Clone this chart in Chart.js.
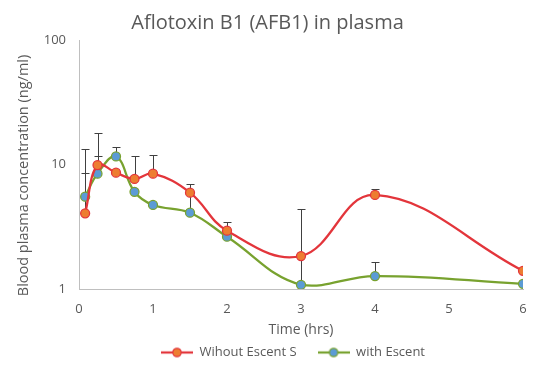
<!DOCTYPE html>
<html>
<head>
<meta charset="utf-8">
<script src="https://cdn.jsdelivr.net/npm/chart.js@4.4.0/dist/chart.umd.min.js"></script>
<style>
  html, body { margin: 0; padding: 0; background: #fff; }
  #wrap { width: 549px; height: 376px; }
</style>
</head>
<body>
<div id="wrap"><canvas id="grafico" width="549" height="376"></canvas></div>
<script>
// tempos de coleta (h) e concentrações (ng/ml)
const tempos = [0.083, 0.25, 0.5, 0.75, 1, 1.5, 2, 3, 4, 6];
const semEscent = [4.05, 9.9, 8.6, 7.65, 8.44, 5.94, 2.94, 1.84, 5.69, 1.4];
const comEscent = [5.51, 8.44, 11.6, 6.04, 4.73, 4.1, 2.63, 1.08, 1.27, 1.1];
// barras de erro (só para cima)
const erroSem = [4.45, 8.0, 0, 4.05, 3.4, 0, 0, 0, 0.7, 0];
const erroCom = [7.8, 3.3, 2.1, 0, 0, 2.9, 0.8, 3.34, 0.37, 0];
const ticksX = [0, 1, 2, 3, 4, 5, 6];
const ticksY = [1, 10, 100];
const legendas = ["Wihout Escent S", "with Escent"];
const tituloY = "Blood plasma concentration (ng/ml)";

const erros = [erroSem, erroCom];
const corTexto = "#595959";
const fonte = "'Open Sans', 'Liberation Sans', sans-serif";

function iconeLegenda(linha, preenchimento) {
    const c = document.createElement("canvas");
    c.width = 32; c.height = 12;
    const g = c.getContext("2d");
    g.strokeStyle = linha; g.lineWidth = 2.25;
    g.beginPath(); g.moveTo(0, 6); g.lineTo(32, 6); g.stroke();
    g.beginPath(); g.arc(16, 6, 4.2, 0, Math.PI * 2);
    g.fillStyle = preenchimento; g.fill();
    g.lineWidth = 1.25; g.stroke();
    return c;
}

const barrasErro = {
    id: "barrasErro",
    beforeDatasetsDraw(chart) {
        const ctx = chart.ctx;
        const sx = chart.scales.x, sy = chart.scales.y;
        ctx.save();
        ctx.strokeStyle = "#404040";
        ctx.lineWidth = 1;
        chart.data.datasets.forEach((ds, d) => {
            ds.data.forEach((p, i) => {
                const e = erros[d][i];
                if (!e) return;
                const px = Math.round(sx.getPixelForValue(p.x)) + 0.5;
                const y0 = sy.getPixelForValue(p.y);
                const y1 = Math.round(sy.getPixelForValue(p.y + e)) + 0.5;
                ctx.beginPath();
                ctx.moveTo(px, y0); ctx.lineTo(px, y1);
                ctx.moveTo(px - 4, y1); ctx.lineTo(px + 4, y1);
                ctx.stroke();
            });
        });
        ctx.restore();
    }
};

// a legenda do original fica centrada mais à direita que o título
const ajusteLegenda = {
    id: "ajusteLegenda",
    afterLayout(chart) { chart.legend.left += 51; }
};

// título do eixo y, um pouco abaixo do centro como no original
const tituloEixoY = {
    id: "tituloEixoY",
    afterDraw(chart) {
        const ctx = chart.ctx;
        const a = chart.chartArea;
        ctx.save();
        ctx.translate(24, (a.top + a.bottom) / 2 + 11);
        ctx.rotate(-Math.PI / 2);
        ctx.fillStyle = corTexto;
        ctx.font = "14.5px " + fonte;
        ctx.textAlign = "center";
        ctx.textBaseline = "middle";
        ctx.fillText(tituloY, 0, 0);
        ctx.restore();
    }
};

const estilos = [
    { linha: "#e3353b", ponto: "#ed7d31" },
    { linha: "#78a22f", ponto: "#5b9bd5" }
];
const series = [semEscent, comEscent];

new Chart(document.getElementById("grafico"), {
    type: "line",
    data: {
        datasets: series.map((s, k) => ({
            label: legendas[k],
            data: tempos.map((t, i) => ({ x: t, y: s[i] })),
            borderColor: estilos[k].linha,
            borderWidth: 2.25,
            pointRadius: 4.5,
            pointBackgroundColor: estilos[k].ponto,
            pointBorderColor: estilos[k].linha,
            pointBorderWidth: 1.25,
            tension: 0.4,
            fill: false
        }))
    },
    options: {
        responsive: false,
        animation: false,
        layout: { padding: { left: 12, right: 26, top: 0, bottom: 7 } },
        plugins: {
            title: {
                display: true,
                text: "Aflotoxin B1 (AFB1) in plasma",
                color: corTexto,
                font: { family: fonte, size: 20, weight: "normal" },
                padding: { top: 11, bottom: 5 }
            },
            legend: {
                position: "bottom",
                labels: {
                    color: corTexto,
                    font: { family: fonte, size: 13 },
                    usePointStyle: true,
                    pointStyleWidth: 32,
                    padding: 21,
                    generateLabels(chart) {
                        const itens = Chart.defaults.plugins.legend.labels.generateLabels(chart);
                        itens.forEach((it, k) => {
                            it.pointStyle = iconeLegenda(estilos[k].linha, estilos[k].ponto);
                        });
                        return itens;
                    }
                }
            },
            tooltip: { enabled: false }
        },
        scales: {
            x: {
                type: "linear",
                min: 0,
                max: 6,
                afterBuildTicks: s => { s.ticks = ticksX.map(v => ({ value: v })); },
                afterFit: s => { s.height = 36; },
                grid: { display: false, drawTicks: false },
                border: { display: true, color: "#bfbfbf", width: 1 },
                ticks: { color: corTexto, font: { family: fonte, size: 13 }, padding: 12 },
                title: {
                    display: true,
                    text: "Time (hrs)",
                    color: corTexto,
                    font: { family: fonte, size: 14 },
                    padding: { top: 0, bottom: -13 }
                }
            },
            y: {
                type: "logarithmic",
                min: 1,
                max: 100,
                afterBuildTicks: s => { s.ticks = ticksY.map(v => ({ value: v })); },
                afterFit: s => { s.width = 67; },
                grid: { display: false, drawTicks: false },
                border: { display: true, color: "#bfbfbf", width: 1 },
                ticks: { color: corTexto, font: { family: fonte, size: 13 }, padding: 13, callback: v => String(v) },
                title: { display: false }
            }
        }
    },
    plugins: [barrasErro, ajusteLegenda, tituloEixoY]
});
</script>
</body>
</html>
